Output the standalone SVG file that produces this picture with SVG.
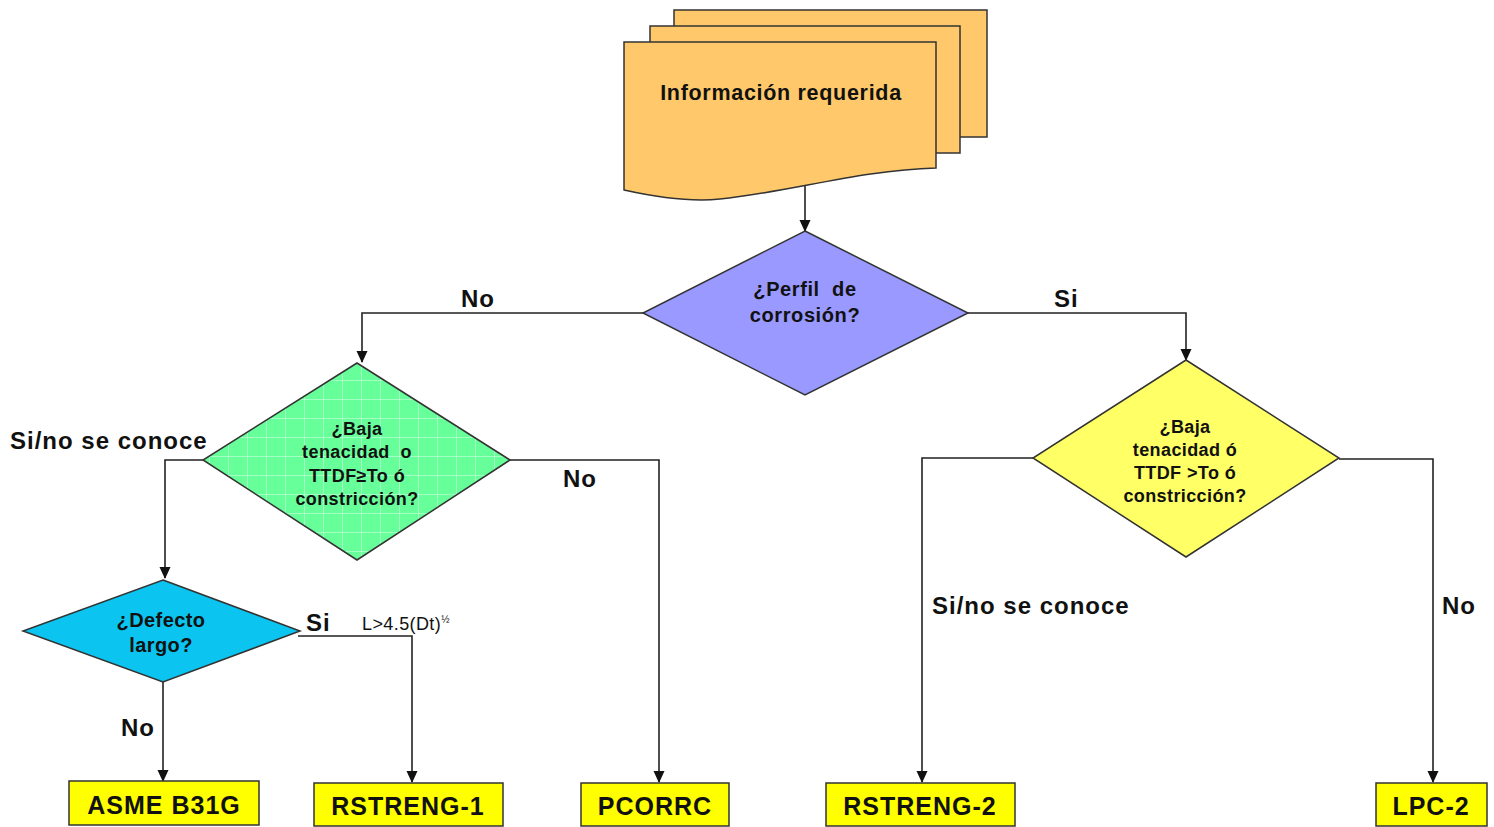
<svg xmlns="http://www.w3.org/2000/svg" width="1494" height="827" viewBox="0 0 1494 827">
<style>
text{font-family:"Liberation Sans",Arial,sans-serif;font-weight:bold;fill:#111;white-space:pre;}
.lbl{font-size:24px;letter-spacing:1px;}
.box{font-size:25px;letter-spacing:1px;text-anchor:middle;}
.dt{text-anchor:middle;}
.conn{fill:none;stroke:#222;stroke-width:1.6;marker-end:url(#arr);}
.shape{stroke:#333;stroke-width:1.5;}
.doc{fill:#FFC96B;stroke:#333;stroke-width:1.5;}
.rbox{fill:#FFFF00;stroke:#333;stroke-width:1.5;}
</style>
<defs>
<marker id="arr" markerUnits="userSpaceOnUse" markerWidth="12" markerHeight="12" viewBox="0 0 12 12" refX="11" refY="6" orient="auto">
<path d="M0,0.5 L12,6 L0,11.5 Z" fill="#111"/>
</marker>
<pattern id="grid" patternUnits="userSpaceOnUse" width="19" height="19">
<rect width="19" height="19" fill="#66FF99"/>
<path d="M0,0.5 H19 M0.5,0 V19" stroke="#ffffff" stroke-opacity="0.4" stroke-width="1"/>
</pattern>
</defs>
<rect width="1494" height="827" fill="#ffffff"/>

<g id="connectors">
<path class="conn" d="M805,186 V231"/>
<path class="conn" d="M643,313 H362 V362"/>
<path class="conn" d="M968,313 H1186 V360"/>
<path class="conn" d="M203,460 H165 V578"/>
<path class="conn" d="M510,460 H659 V782"/>
<path class="conn" d="M298,636 H412 V782"/>
<path class="conn" d="M163,682 V781"/>
<path class="conn" d="M1033,458 H922 V782"/>
<path class="conn" d="M1339,459 H1433 V782"/>
<text class="lbl" x="461" y="307">No</text>
<text class="lbl" x="1054" y="307">Si</text>
<text class="lbl" x="10" y="449">Si/no se conoce</text>
<text class="lbl" x="563" y="487">No</text>
<text class="lbl" x="306" y="631">Si</text>
<text x="362" y="630" style="font-weight:normal;font-size:18px;letter-spacing:0.4px">L&gt;4.5(Dt)<tspan dy="-7" font-size="10">½</tspan></text>
<text class="lbl" x="121" y="736">No</text>
<text class="lbl" x="932" y="614">Si/no se conoce</text>
<text class="lbl" x="1442" y="614">No</text>
</g>

<g id="info">
<rect class="doc" x="674" y="10" width="313" height="127"/>
<rect class="doc" x="650" y="26" width="310" height="127"/>
<path class="doc" d="M624,42 H936 V168 C860,170 790,192 720,199 C690,202 660,198 624,190 Z"/>
<text class="dt" x="781" y="100" style="font-size:21.5px;letter-spacing:0.7px">Información requerida</text>
</g>

<g id="perfil">
<polygon class="shape" fill="#9999FF" points="805,231 968,313 805,395 643,313"/>
<text class="dt" x="805" y="296" style="font-size:20px;letter-spacing:0.6px">¿Perfil  de</text>
<text class="dt" x="805" y="322" style="font-size:20px;letter-spacing:0.6px">corrosión?</text>
</g>

<g id="baja1">
<polygon class="shape" fill="url(#grid)" points="357,363 510,460 357,560 203,460"/>
<g style="font-size:18px;letter-spacing:0.4px">
<text class="dt" x="357" y="435">¿Baja</text>
<text class="dt" x="357" y="458">tenacidad  o</text>
<text class="dt" x="357" y="482">TTDF≥To ó</text>
<text class="dt" x="357" y="505">constricción?</text>
</g>
</g>

<g id="baja2">
<polygon class="shape" fill="#FFFF66" points="1186,360 1339,458 1186,557 1033,458"/>
<g style="font-size:18px;letter-spacing:0.4px">
<text class="dt" x="1185" y="433">¿Baja</text>
<text class="dt" x="1185" y="456">tenacidad ó</text>
<text class="dt" x="1185" y="479">TTDF &gt;To ó</text>
<text class="dt" x="1185" y="502">constricción?</text>
</g>
</g>

<g id="defecto">
<polygon class="shape" fill="#0BC4F0" points="163,580 300,631 163,682 23,631"/>
<text class="dt" x="161" y="627" style="font-size:20px;letter-spacing:0.4px">¿Defecto</text>
<text class="dt" x="161" y="652" style="font-size:20px;letter-spacing:0.4px">largo?</text>
</g>

<g id="asme">
<rect class="rbox" x="69" y="781" width="190" height="44"/>
<text class="box" x="164" y="814">ASME B31G</text>
</g>
<g id="rstreng1">
<rect class="rbox" x="314" y="783" width="189" height="43"/>
<text class="box" x="408" y="815">RSTRENG-1</text>
</g>
<g id="pcorrc">
<rect class="rbox" x="581" y="783" width="148" height="43"/>
<text class="box" x="655" y="815">PCORRC</text>
</g>
<g id="rstreng2">
<rect class="rbox" x="826" y="783" width="189" height="43"/>
<text class="box" x="920" y="815">RSTRENG-2</text>
</g>
<g id="lpc2">
<rect class="rbox" x="1376" y="783" width="111" height="43"/>
<text class="box" x="1431" y="815">LPC-2</text>
</g>
</svg>
